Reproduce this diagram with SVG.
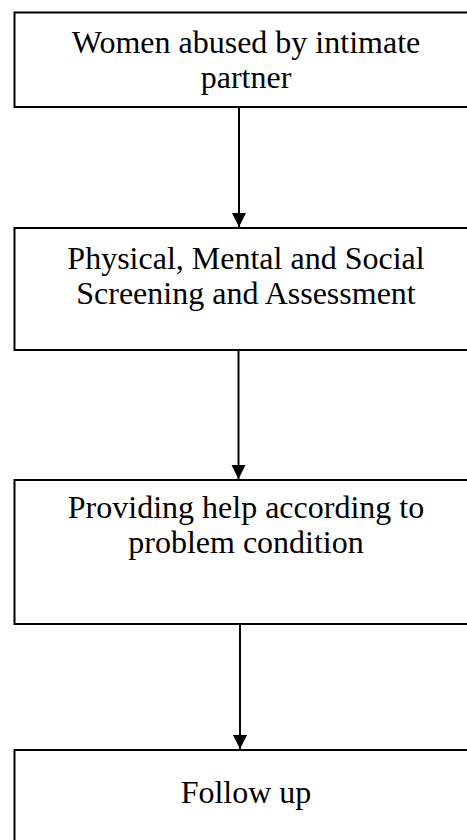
<svg xmlns="http://www.w3.org/2000/svg" width="467" height="840" viewBox="0 0 467 840">
  <style>
    .box { fill: #ffffff; stroke: #000000; stroke-width: 2; }
    .lbl { font-family: "Liberation Serif", "Times New Roman", serif; font-size: 32px; fill: #000000; text-anchor: middle; }
    .edge { stroke: #000000; stroke-width: 2; fill: none; }
  </style>
  <defs>
    <marker id="arrow" viewBox="0 0 14 16" refX="14" refY="8" markerWidth="14" markerHeight="16" markerUnits="userSpaceOnUse" orient="auto">
      <path d="M0,1 L14,8 L0,15 Z" fill="#000000"/>
    </marker>
  </defs>
  <rect width="467" height="840" fill="#ffffff"/>
  <g id="connectors">
    <line class="edge" x1="239" y1="107" x2="239" y2="227" marker-end="url(#arrow)"/>
    <line class="edge" x1="238.5" y1="350" x2="238.5" y2="479" marker-end="url(#arrow)"/>
    <line class="edge" x1="240" y1="624" x2="240" y2="749" marker-end="url(#arrow)"/>
  </g>
  <g id="node1">
    <rect class="box" x="14.5" y="12.5" width="470" height="94.5"/>
    <text class="lbl" x="246" y="53">Women abused by intimate</text>
    <text class="lbl" x="246" y="88">partner</text>
  </g>
  <g id="node2">
    <rect class="box" x="14.5" y="228" width="470" height="122"/>
    <text class="lbl" x="246" y="269">Physical, Mental and Social</text>
    <text class="lbl" x="246" y="304">Screening and Assessment</text>
  </g>
  <g id="node3">
    <rect class="box" x="14.5" y="480" width="470" height="144"/>
    <text class="lbl" x="246" y="518">Providing help according to</text>
    <text class="lbl" x="246" y="553">problem condition</text>
  </g>
  <g id="node4">
    <rect class="box" x="14.5" y="750" width="470" height="110"/>
    <text class="lbl" x="246" y="803">Follow up</text>
  </g>
</svg>
